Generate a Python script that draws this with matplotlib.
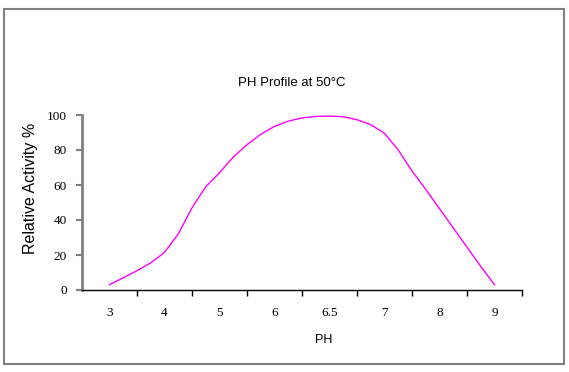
import matplotlib
matplotlib.use('Agg')
import matplotlib.pyplot as plt
import numpy as np
from matplotlib.patches import Rectangle

# Category labels on the x axis (equally spaced, not a linear pH scale)
ph_labels = ['3', '4', '5', '6', '6.5', '7', '8', '9']
ph_ticks = [3, 4, 5, 6, 6.5, 7, 8, 9]

# Curve: pH vs relative activity (%)
ph_values = [3.0, 3.25, 3.5, 3.75, 4.0, 4.25, 4.5, 4.75, 5.0, 5.25, 5.5, 5.75,
             6.0, 6.125, 6.25, 6.375, 6.5, 6.625, 6.75, 6.875, 7.0, 7.25, 7.5,
             7.75, 8.0, 8.25, 8.5, 8.75, 9.0]
activity = [3, 7, 11, 15.5, 21.5, 32, 47, 59, 67, 76, 83, 89,
            93.5, 96.5, 98.3, 99.2, 99.4, 99, 97.3, 94.5, 89.5, 80, 68,
            57.5, 46.5, 35.5, 24.5, 13.5, 3]

sans = ['Liberation Sans', 'DejaVu Sans']
serif = ['Liberation Serif', 'DejaVu Serif']

W, H = 569, 372
fig = plt.figure(figsize=(W / 100, H / 100), dpi=100)
ax = fig.add_axes([82 / W, 1 - 290 / H, (522 - 82) / W, (290 - 115) / H])

# category axis: map pH onto evenly spaced category positions
pos = np.interp(ph_values, ph_ticks, np.arange(len(ph_ticks)))
ax.plot(pos, activity, color='#ff00ff', linewidth=1.0)

ax.set_xlim(-0.5, len(ph_labels) - 0.5)
ax.set_ylim(0, 100)

# tick marks between categories, labels centred on categories
ax.set_xticks(np.arange(len(ph_labels)) + 0.5)
ax.set_xticklabels([])
ax.set_xticks(np.arange(len(ph_labels)), minor=True)
ax.set_xticklabels(ph_labels, minor=True, fontfamily=serif, fontsize=9.5)
ax.tick_params(axis='x', which='major', direction='out', length=4, width=1, color='black')
ax.tick_params(axis='x', which='minor', length=0, pad=12)

ax.set_yticks(np.arange(0, 101, 20))
ax.set_yticklabels([str(v) for v in range(0, 101, 20)], fontfamily=serif, fontsize=9.5)
ax.tick_params(axis='y', direction='out', length=4, width=1.5, color='#808080', pad=7)

for s in ['top', 'right']:
    ax.spines[s].set_visible(False)
ax.spines['left'].set_color('#808080')
ax.spines['left'].set_linewidth(2)
ax.spines['bottom'].set_color('black')
ax.spines['bottom'].set_linewidth(1)

# Text
fig.text(292 / W, 1 - 83 / H, 'PH Profile at 50°C', ha='center', va='center',
         fontfamily=sans, fontsize=9.5)
fig.text(31 / W, 1 - 188 / H, 'Relative Activity %', ha='center', va='center',
         rotation=90, fontfamily=sans, fontsize=11.5)
fig.text(324 / W, 1 - 340 / H, 'PH', ha='center', va='center',
         fontfamily=sans, fontsize=9)

# Outer chart border
fig.patches.append(Rectangle((4 / W, 1 - 364 / H), 560 / W, 355 / H,
                             transform=fig.transFigure, fill=False,
                             edgecolor='#808080', linewidth=1.5))

fig.savefig('out.png', dpi=100)
